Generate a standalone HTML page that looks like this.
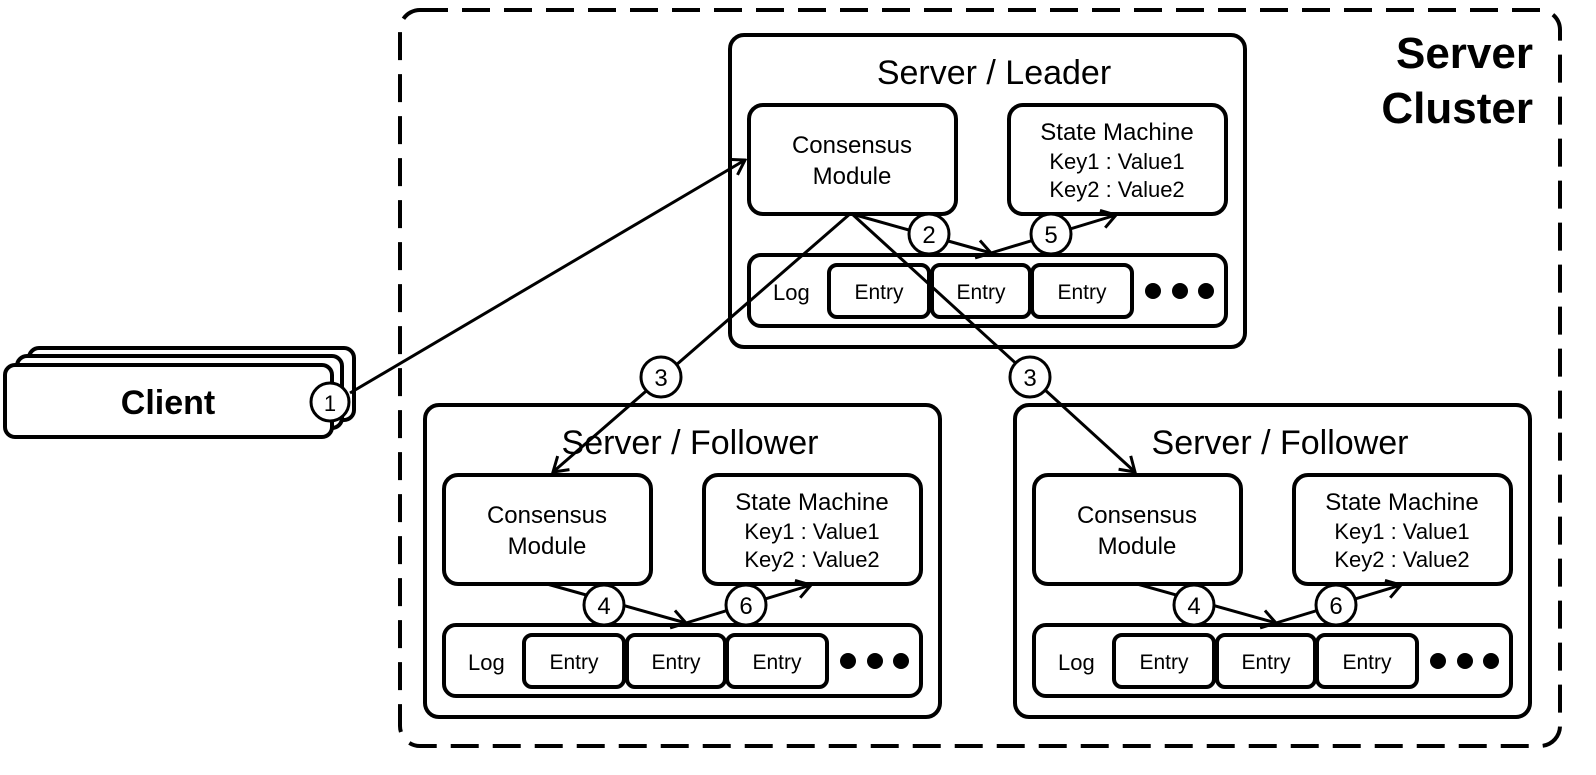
<!DOCTYPE html>
<html><head><style>body{margin:0;background:#fff}svg{display:block}text{font-family:"Liberation Sans","Noto Sans CJK KR",sans-serif;fill:#000}</style></head>
<body>
<svg width="1596" height="775" viewBox="0 0 1596 775" xmlns="http://www.w3.org/2000/svg">
<defs>
<marker id="a" markerWidth="10" markerHeight="10" refX="9" refY="5" orient="auto" markerUnits="userSpaceOnUse" viewBox="0 0 10 10"><path d="M0,0 L9,5 L0,10" fill="none" stroke="#000" stroke-width="1.6"/></marker>
<marker id="b" markerWidth="22" markerHeight="22" refX="20" refY="11" orient="auto" markerUnits="userSpaceOnUse"><path d="M6,2 L20,11 L6,20" fill="none" stroke="#000" stroke-width="3"/></marker>
<g id="srv">
<rect x="0" y="0" width="515" height="312" rx="14" fill="#fff" stroke="#000" stroke-width="4"/>
<rect x="19" y="70" width="207" height="109" rx="14" fill="#fff" stroke="#000" stroke-width="4"/>
<text x="122" y="118" font-size="24" text-anchor="middle">Consensus</text>
<text x="122" y="149" font-size="24" text-anchor="middle">Module</text>
<rect x="279" y="70" width="217" height="109" rx="14" fill="#fff" stroke="#000" stroke-width="4"/>
<text x="387" y="105" font-size="24" text-anchor="middle">State Machine</text>
<text x="387" y="134" font-size="22" text-anchor="middle">Key1 : Value1</text>
<text x="387" y="162" font-size="22" text-anchor="middle">Key2 : Value2</text>
<rect x="19" y="220" width="477" height="71" rx="12" fill="#fff" stroke="#000" stroke-width="4"/>
<text x="43" y="265" font-size="22">Log</text>
<rect x="99" y="230" width="100" height="52" rx="8" fill="#fff" stroke="#000" stroke-width="4"/>
<rect x="202" y="230" width="98" height="52" rx="8" fill="#fff" stroke="#000" stroke-width="4"/>
<rect x="302" y="230" width="100" height="52" rx="8" fill="#fff" stroke="#000" stroke-width="4"/>
<text x="149" y="264" font-size="21" text-anchor="middle">Entry</text>
<text x="251" y="264" font-size="21" text-anchor="middle">Entry</text>
<text x="352" y="264" font-size="21" text-anchor="middle">Entry</text>
<circle cx="423" cy="256" r="8"/><circle cx="450" cy="256" r="8"/><circle cx="476" cy="256" r="8"/>
<path d="M122,179 L261,218" stroke="#000" stroke-width="3" fill="none" marker-end="url(#b)"/>
<path d="M261,218 L386,180" stroke="#000" stroke-width="3" fill="none" marker-end="url(#b)"/>
</g>
</defs>
<rect x="400" y="10" width="1160" height="736" rx="20" fill="none" stroke="#000" stroke-width="4" stroke-dasharray="28,14"/>
<text x="1533" y="68" font-size="44" font-weight="bold" text-anchor="end">Server</text>
<text x="1533" y="123" font-size="44" font-weight="bold" text-anchor="end">Cluster</text>
<use href="#srv" x="730" y="35"/>
<text x="994" y="84" font-size="34" text-anchor="middle">Server / Leader</text>
<use href="#srv" x="425" y="405"/>
<text x="690" y="454" font-size="34" text-anchor="middle">Server / Follower</text>
<use href="#srv" x="1015" y="405"/>
<text x="1280" y="454" font-size="34" text-anchor="middle">Server / Follower</text>
<!-- circles in servers -->
<g stroke="#000" stroke-width="3" fill="#fff">
<circle cx="929" cy="234" r="20"/><circle cx="1051" cy="234" r="20"/>
<circle cx="604" cy="605" r="20"/><circle cx="746" cy="605" r="20"/>
<circle cx="1194" cy="605" r="20"/><circle cx="1336" cy="605" r="20"/>
</g>
<g font-size="24" text-anchor="middle">
<text x="929" y="243">2</text><text x="1051" y="243">5</text>
<text x="604" y="614">4</text><text x="746" y="614">6</text>
<text x="1194" y="614">4</text><text x="1336" y="614">6</text>
</g>
<!-- client -->
<rect x="29" y="348" width="325" height="72" rx="10" fill="#fff" stroke="#000" stroke-width="4"/>
<rect x="17" y="356" width="325" height="72" rx="10" fill="#fff" stroke="#000" stroke-width="4"/>
<rect x="5" y="365" width="327" height="72" rx="10" fill="#fff" stroke="#000" stroke-width="4"/>
<text x="168" y="414" font-size="34" font-weight="bold" text-anchor="middle">Client</text>
<!-- lines -->
<g stroke="#000" stroke-width="3" fill="none">
<path d="M350,393 L745,160" marker-end="url(#b)"/>
<path d="M851,213 L553,472" marker-end="url(#b)"/>
<path d="M851,213 L1135,472" marker-end="url(#b)"/>
</g>
<g stroke="#000" stroke-width="3" fill="#fff">
<circle cx="330" cy="402" r="19"/>
<circle cx="661" cy="377" r="20"/><circle cx="1030" cy="377" r="20"/>
</g>
<g font-size="24" text-anchor="middle">
<text x="330" y="411" font-size="22">1</text>
<text x="661" y="386">3</text><text x="1030" y="386">3</text>
</g>
</svg>
</body></html>
